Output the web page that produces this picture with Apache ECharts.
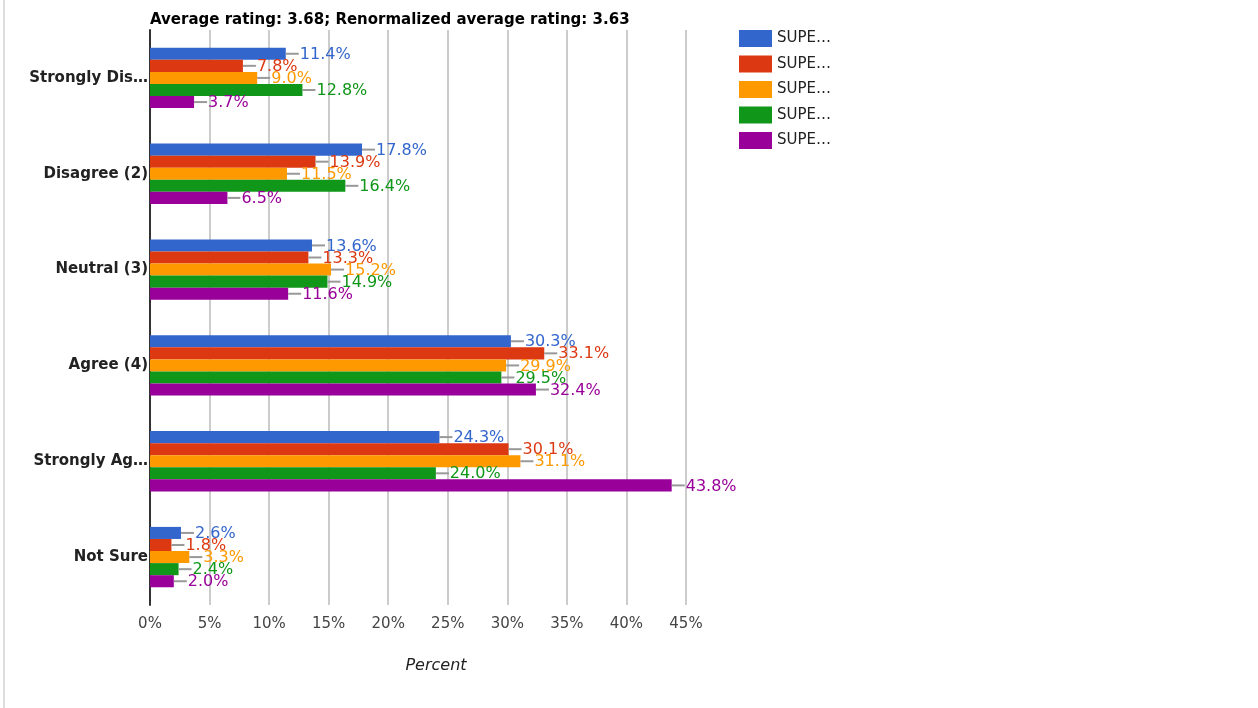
<!DOCTYPE html>
<html>
<head>
<meta charset="utf-8">
<script src="https://cdn.jsdelivr.net/npm/echarts@6/dist/echarts.min.js"></script>
<style>
  html, body { margin: 0; padding: 0; background: #fff; }
  #chart { width: 1258px; height: 708px; }
</style>
</head>
<body>
<div id="chart"></div>
<script>
// data
var categories = ["Strongly Dis…", "Disagree (2)", "Neutral (3)", "Agree (4)", "Strongly Ag…", "Not Sure"];
var seriesNames = ["SUPE 1", "SUPE 2", "SUPE 3", "SUPE 4", "SUPE 5"];
var colors = ["#3366cc", "#dc3912", "#ff9900", "#109618", "#990099"];
var s1 = [11.4, 17.8, 13.6, 30.3, 24.3, 2.6];
var s2 = [7.8, 13.9, 13.3, 33.1, 30.1, 1.8];
var s3 = [9.0, 11.5, 15.2, 29.9, 31.1, 3.3];
var s4 = [12.8, 16.4, 14.9, 29.5, 24.0, 2.4];
var s5 = [3.7, 6.5, 11.6, 32.4, 43.8, 2.0];
var xTicks = [0, 5, 10, 15, 20, 25, 30, 35, 40, 45];

var font = "DejaVu Sans";
var chart = echarts.init(document.getElementById("chart"));

function makeSeries(name, data, color) {
  return {
    name: name,
    type: "bar",
    data: data,
    barGap: "0%",
    barCategoryGap: "37%",
    itemStyle: { color: color },
    animation: false,
    label: {
      show: true,
      position: "right",
      distance: 0,
      formatter: function (p) {
        return "{l|}{v|" + p.value.toFixed(1) + "%}";
      },
      rich: {
        l: { width: 13, height: 2, backgroundColor: "#999" },
        v: { color: color, fontSize: 16, fontFamily: font, padding: [2, 0, 0, 1] }
      }
    }
  };
}

chart.setOption({
  title: {
    text: "Average rating: 3.68; Renormalized average rating: 3.63",
    left: 145,
    top: 8,
    textStyle: { fontFamily: font, fontSize: 15, fontWeight: "bold", color: "#000" }
  },
  legend: {
    orient: "vertical",
    left: 734,
    top: 25,
    itemWidth: 33,
    itemHeight: 17,
    itemGap: 8.5,
    icon: "rect",
    formatter: function () { return "SUPE…"; },
    textStyle: { fontFamily: font, fontSize: 15, color: "#222" }
  },
  grid: { left: 150, right: 572, top: 30, bottom: 103, containLabel: false },
  xAxis: {
    type: "value",
    min: 0,
    max: 45,
    interval: 5,
    name: "Percent",
    nameLocation: "middle",
    nameGap: 53,
    nameTextStyle: { fontFamily: font, fontSize: 16, fontStyle: "italic", color: "#222", padding: [0, 0, 0, 36] },
    axisLine: { show: false },
    axisTick: { show: false },
    axisLabel: {
      fontFamily: font, fontSize: 15, color: "#444", margin: 12,
      formatter: function (v) { return xTicks.indexOf(v) >= 0 ? v + "%" : ""; }
    },
    splitLine: { lineStyle: { color: "#ccc", width: 2 } }
  },
  yAxis: {
    type: "category",
    data: categories,
    inverse: true,
    axisLine: { show: true, lineStyle: { color: "#333", width: 2 } },
    axisTick: { show: false },
    axisLabel: { fontFamily: font, fontSize: 15, fontWeight: "bold", color: "#222", margin: 2, padding: [4, 0, 0, 0] }
  },
  graphic: [
    { type: "rect", left: 3, top: 0, shape: { width: 2, height: 708 }, style: { fill: "#ddd" } }
  ],
  series: [
    makeSeries(seriesNames[0], s1, colors[0]),
    makeSeries(seriesNames[1], s2, colors[1]),
    makeSeries(seriesNames[2], s3, colors[2]),
    makeSeries(seriesNames[3], s4, colors[3]),
    makeSeries(seriesNames[4], s5, colors[4])
  ]
});
</script>
</body>
</html>
